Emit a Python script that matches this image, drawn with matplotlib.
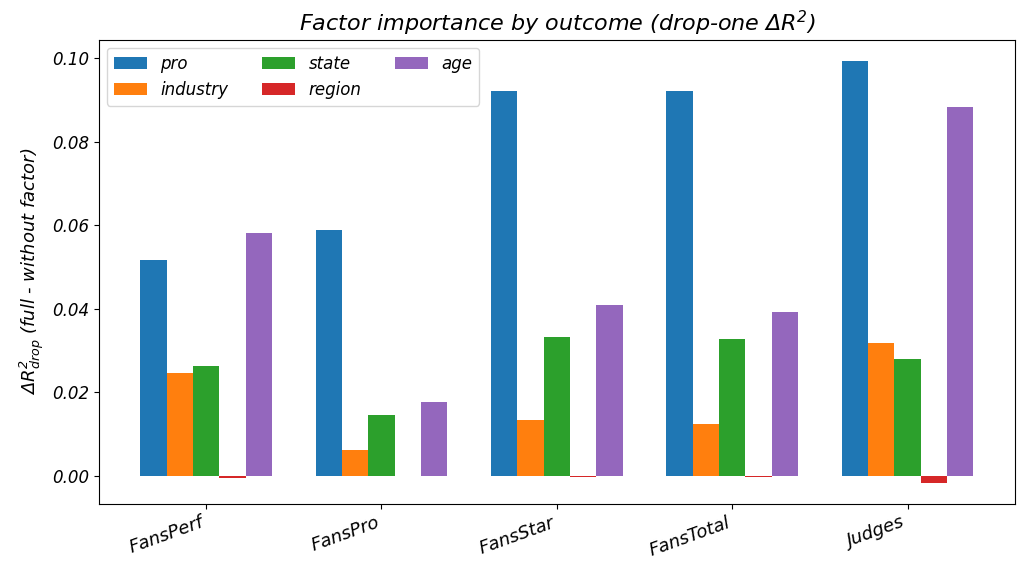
import numpy as np
import matplotlib
matplotlib.use("Agg")
import matplotlib.pyplot as plt

plt.rcParams['font.style'] = 'italic'
plt.rcParams['mathtext.default'] = 'regular'

outcomes = ['FansPerf', 'FansPro', 'FansStar', 'FansTotal', 'Judges']
factors = ['pro', 'industry', 'state', 'region', 'age']

pro = [0.0517, 0.0589, 0.0921, 0.0921, 0.0993]
industry = [0.0246, 0.0062, 0.0134, 0.0124, 0.0318]
state = [0.0262, 0.0144, 0.0333, 0.0328, 0.0280]
region = [-0.0005, 0.0000, -0.0003, -0.0003, -0.0017]
age = [0.0582, 0.0177, 0.0409, 0.0392, 0.0883]

values = [pro, industry, state, region, age]

x = np.arange(len(outcomes))
width = 0.15

fig, ax = plt.subplots(figsize=(10.18, 5.61), dpi=100)
for i, (name, vals) in enumerate(zip(factors, values)):
    ax.bar(x + (i - 2) * width, vals, width, label=name)

ax.set_xticks(x)
ax.set_xticklabels(outcomes, rotation=20, ha='right', fontsize=13)
ax.tick_params(axis='y', labelsize=12)
ax.set_ylabel(r'$\Delta R^2_{drop}$ (full - without factor)', fontsize=13)
ax.set_title(r'Factor importance by outcome (drop-one $\Delta R^2$)', fontsize=16)
ax.legend(ncol=3, loc='upper left', fontsize=12)

fig.subplots_adjust(left=0.097, right=0.997, top=0.929, bottom=0.102)
plt.savefig('out.png')
